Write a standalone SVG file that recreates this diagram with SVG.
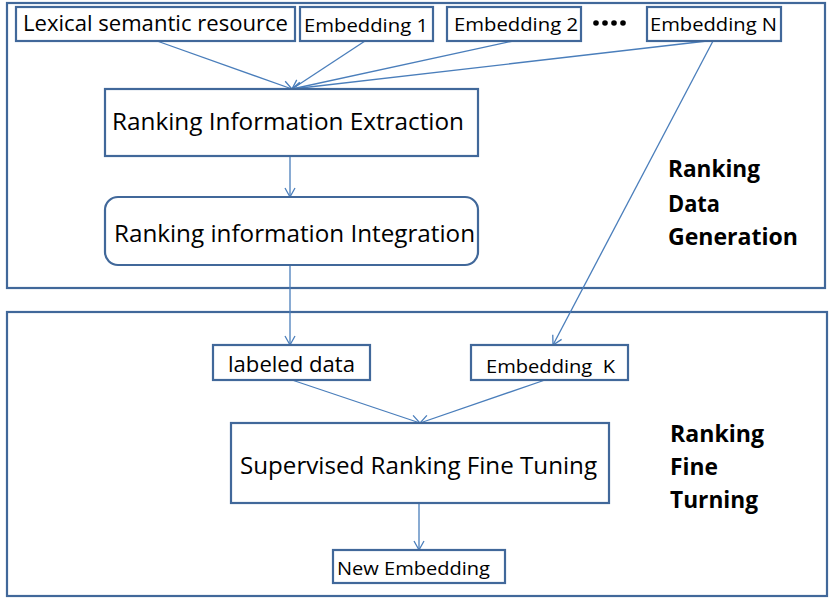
<svg xmlns="http://www.w3.org/2000/svg" width="830" height="600" viewBox="0 0 830 600">
<style>
.box{fill:#fff;stroke:#41689A;stroke-width:2.2}
.frame{fill:none;stroke:#41689A;stroke-width:2.2}
.t{font-family:"Open Sans","Liberation Sans",sans-serif;fill:#000}
.b{font-family:"Open Sans","Liberation Sans",sans-serif;font-weight:bold;fill:#000;font-size:23px}
.c{fill:none;stroke:#4A7EBB;stroke-width:1.3}
</style>
<defs>
<marker id="a" markerWidth="12" markerHeight="12" refX="10" refY="6" orient="auto" markerUnits="userSpaceOnUse">
<path d="M1,1 L10,6 L1,11" fill="none" stroke="#4A7EBB" stroke-width="1.3"/>
</marker>
</defs>
<rect x="7" y="3" width="818" height="285" class="frame"/>
<rect x="7" y="312" width="820" height="284" class="frame"/>
<g id="connectors">
<line x1="157" y1="41" x2="292" y2="89" class="c" marker-end="url(#a)"/>
<line x1="365" y1="41" x2="292" y2="89" class="c" marker-end="url(#a)"/>
<line x1="513" y1="41" x2="292" y2="89" class="c" marker-end="url(#a)"/>
<line x1="707" y1="41" x2="292" y2="89" class="c" marker-end="url(#a)"/>
<line x1="713" y1="41" x2="553" y2="345" class="c" marker-end="url(#a)"/>
<line x1="290" y1="157" x2="290" y2="197" class="c" marker-end="url(#a)"/>
<line x1="290" y1="265" x2="290" y2="345" class="c" marker-end="url(#a)"/>
<line x1="292" y1="380" x2="420" y2="423" class="c" marker-end="url(#a)"/>
<line x1="545" y1="380" x2="420" y2="423" class="c" marker-end="url(#a)"/>
<line x1="419" y1="503" x2="419" y2="550" class="c" marker-end="url(#a)"/>
</g>
<g id="lexical">
<rect x="16" y="7" width="279" height="34" class="box"/>
<text x="23" y="31" class="t" font-size="22" textLength="265" lengthAdjust="spacingAndGlyphs">Lexical semantic resource</text>
</g>
<g id="emb1">
<rect x="300" y="7" width="133" height="34" class="box"/>
<text x="304" y="32" class="t" font-size="19" textLength="124" lengthAdjust="spacingAndGlyphs">Embedding 1</text>
</g>
<g id="emb2">
<rect x="447" y="7" width="134" height="34" class="box"/>
<text x="454" y="31" class="t" font-size="19" textLength="124" lengthAdjust="spacingAndGlyphs">Embedding 2</text>
</g>
<g id="dots" fill="#000">
<circle cx="596" cy="23" r="2.8"/><circle cx="605" cy="23" r="2.8"/><circle cx="614" cy="23" r="2.8"/><circle cx="623" cy="23" r="2.8"/>
</g>
<g id="embN">
<rect x="647" y="7" width="134" height="34" class="box"/>
<text x="650" y="31" class="t" font-size="19" textLength="127" lengthAdjust="spacingAndGlyphs">Embedding N</text>
</g>
<g id="extraction">
<rect x="105" y="89" width="373" height="67" class="box"/>
<text x="112" y="130" class="t" font-size="23" textLength="352" lengthAdjust="spacingAndGlyphs">Ranking Information Extraction</text>
</g>
<g id="integration">
<rect x="105" y="197" width="373" height="68" rx="13" class="box"/>
<text x="114" y="242" class="t" font-size="23" textLength="361" lengthAdjust="spacingAndGlyphs">Ranking information Integration</text>
</g>
<g id="label-gen">
<text x="668" y="177" class="b" textLength="92" lengthAdjust="spacingAndGlyphs">Ranking</text>
<text x="668" y="212" class="b" textLength="52" lengthAdjust="spacingAndGlyphs">Data</text>
<text x="668" y="245" class="b" textLength="130" lengthAdjust="spacingAndGlyphs">Generation</text>
</g>
<g id="labeled">
<rect x="213" y="345" width="157" height="35" class="box"/>
<text x="228" y="372" class="t" font-size="21" textLength="127" lengthAdjust="spacingAndGlyphs">labeled data</text>
</g>
<g id="embK">
<rect x="471" y="345" width="157" height="35" class="box"/>
<text x="486" y="373" class="t" font-size="19" textLength="129" lengthAdjust="spacingAndGlyphs" xml:space="preserve">Embedding  K</text>
</g>
<g id="supervised">
<rect x="231" y="423" width="378" height="80" class="box"/>
<text x="240" y="474" class="t" font-size="23" textLength="357" lengthAdjust="spacingAndGlyphs">Supervised Ranking Fine Tuning</text>
</g>
<g id="newemb">
<rect x="333" y="550" width="172" height="33" class="box"/>
<text x="337" y="575" class="t" font-size="19" textLength="153" lengthAdjust="spacingAndGlyphs">New Embedding</text>
</g>
<g id="label-fine">
<text x="670" y="442" class="b" textLength="94" lengthAdjust="spacingAndGlyphs">Ranking</text>
<text x="670" y="475" class="b" textLength="48" lengthAdjust="spacingAndGlyphs">Fine</text>
<text x="670" y="508" class="b" textLength="88" lengthAdjust="spacingAndGlyphs">Turning</text>
</g>
</svg>
